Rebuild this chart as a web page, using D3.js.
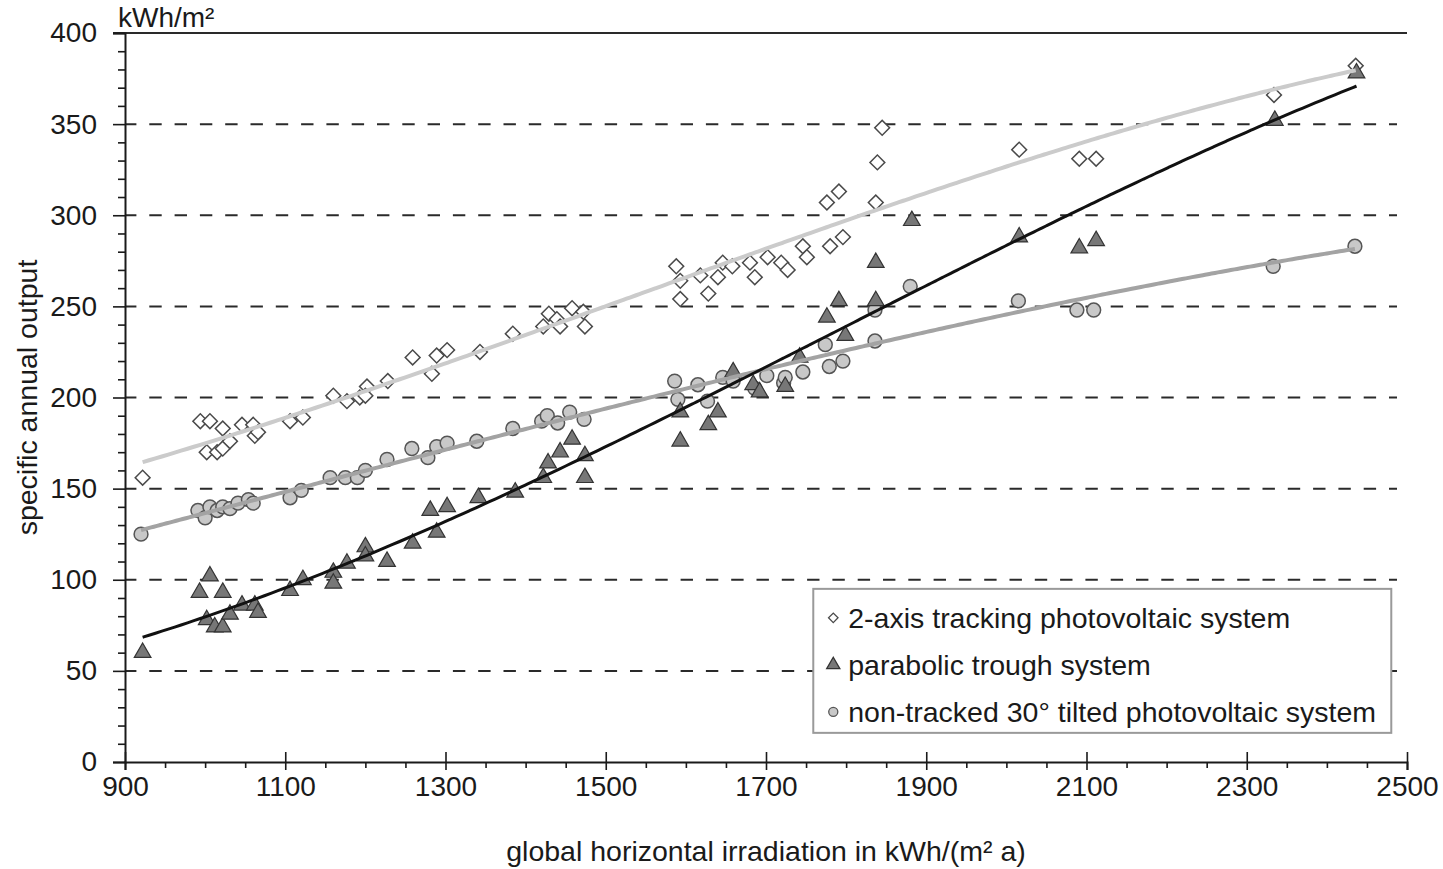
<!DOCTYPE html>
<html>
<head>
<meta charset="utf-8">
<script src="https://cdn.jsdelivr.net/npm/d3@7"></script>
<style>
  body { margin: 0; background: #fff; }
  svg text { font-family: "Liberation Sans", Arial, sans-serif; fill: #1a1a1a; }
</style>
</head>
<body>
<svg class="chart" width="1443" height="869"></svg>
<script>
// 2-axis tracking photovoltaic system (irradiation, output)
const trackX = [922, 994, 1006, 1002, 1015, 1022, 1031, 1022, 1046, 1060, 1062, 1066, 1106, 1122, 1160, 1177, 1193, 1202, 1200, 1228,
  1259, 1283, 1289, 1302, 1343, 1384, 1422, 1429, 1439, 1443, 1458, 1472, 1474, 1588, 1593, 1593, 1618, 1628, 1640, 1646,
  1658, 1680, 1686, 1702, 1719, 1727, 1746, 1751, 1776, 1780, 1791, 1796, 1837, 1839, 1845, 2016, 2091, 2112, 2334, 2436];
const trackY = [156, 187, 187, 170, 170, 172, 176, 183, 185, 185, 179, 181, 187, 189, 201, 198, 200, 206, 201, 209,
  222, 213, 223, 226, 225, 235, 239, 246, 243, 239, 249, 247, 239, 272, 254, 264, 267, 257, 266, 274,
  272, 274, 266, 277, 274, 270, 283, 277, 307, 283, 313, 288, 307, 329, 348, 336, 331, 331, 366, 382];

// parabolic trough system
const troughX = [922, 993, 1006, 1022, 1002, 1012, 1022, 1031, 1046, 1062, 1066, 1106, 1122, 1160, 1160, 1177, 1200, 1200, 1227, 1259,
  1281, 1289, 1302, 1341, 1387, 1422, 1428, 1443, 1458, 1474, 1474, 1593, 1593, 1628, 1640, 1659, 1684, 1692, 1724, 1742,
  1776, 1791, 1799, 1837, 1837, 1882, 2016, 2091, 2112, 2335, 2437];
const troughY = [60, 93, 102, 93, 78, 74, 74, 81, 86, 86, 82, 94, 100, 104, 98, 109, 118, 113, 110, 120,
  138, 126, 140, 145, 148, 156, 164, 170, 177, 168, 156, 176, 192, 185, 192, 214, 207, 203, 206, 222,
  244, 253, 234, 274, 253, 297, 288, 282, 286, 352, 378];

// non-tracked 30° tilted photovoltaic system
const fixedX = [920, 991, 1000, 1006, 1015, 1022, 1031, 1041, 1054, 1060, 1106, 1120, 1156, 1175, 1190, 1200, 1227, 1258, 1278, 1289,
  1302, 1339, 1384, 1420, 1427, 1440, 1455, 1473, 1586, 1590, 1615, 1627, 1646, 1659, 1686, 1701, 1722, 1724, 1746, 1774,
  1779, 1796, 1836, 1836, 1880, 2015, 2088, 2109, 2333, 2435];
const fixedY = [125, 138, 134, 140, 138, 140, 139, 142, 144, 142, 145, 149, 156, 156, 156, 160, 166, 172, 167, 173,
  175, 176, 183, 187, 190, 186, 192, 188, 209, 199, 207, 198, 211, 209, 205, 212, 208, 211, 214, 229,
  217, 220, 231, 248, 261, 253, 248, 248, 272, 283];

const xMajor = [900, 1100, 1300, 1500, 1700, 1900, 2100, 2300, 2500];
const yMajor = [0, 50, 100, 150, 200, 250, 300, 350, 400];
const seriesNames = ["2-axis tracking photovoltaic system", "parabolic trough system", "non-tracked 30° tilted photovoltaic system"];

const margin = {left: 125, right: 36, top: 33, bottom: 107};
const width = 1443 - margin.left - margin.right;
const height = 869 - margin.top - margin.bottom;

const x = d3.scaleLinear().domain([900, 2500]).range([0, width]);
const y = d3.scaleLinear().domain([0, 400]).range([height, 0]);

const svg = d3.select('svg.chart');
const g = svg.append('g').attr('transform', `translate(${margin.left}, ${margin.top})`);

// least squares polynomial, used for the trend curves
function polyFit(xs, ys, order) {
  const n = order + 1;
  const ts = xs.map(v => (v - 1600) / 1000);
  const A = d3.range(n).map(() => new Array(n + 1).fill(0));
  ts.forEach((t, k) => {
    for (let i = 0; i < n; i++) {
      for (let j = 0; j < n; j++) A[i][j] += Math.pow(t, i + j);
      A[i][n] += Math.pow(t, i) * ys[k];
    }
  });
  for (let i = 0; i < n; i++) {
    let p = i;
    for (let r = i + 1; r < n; r++) if (Math.abs(A[r][i]) > Math.abs(A[p][i])) p = r;
    [A[i], A[p]] = [A[p], A[i]];
    for (let r = 0; r < n; r++) {
      if (r === i) continue;
      const f = A[r][i] / A[i][i];
      for (let c = i; c <= n; c++) A[r][c] -= f * A[i][c];
    }
  }
  const coef = A.map((row, i) => row[n] / row[i]);
  return v => {
    const t = (v - 1600) / 1000;
    return coef.reduce((s, c, i) => s + c * Math.pow(t, i), 0);
  };
}

// dashed gridlines
g.selectAll('line.grid')
  .data(yMajor.filter(d => d > 0 && d < 400))
  .enter()
  .append('line')
  .attr('class', 'grid')
  .attr('x1', 0)
  .attr('x2', width - 10)
  .attr('y1', d => y(d))
  .attr('y2', d => y(d))
  .style('stroke', '#2a2a2a')
  .style('stroke-width', 2)
  .style('stroke-dasharray', '12.4,12.9')
  .style('stroke-dashoffset', 1);

// top border line
g.append('line')
  .attr('x1', -12)
  .attr('x2', width)
  .attr('y1', y(400))
  .attr('y2', y(400))
  .style('stroke', '#2a2a2a')
  .style('stroke-width', 2);

// axes
const xMinor = d3.range(950, 2500, 50).filter(d => !xMajor.includes(d));
const yMinor = d3.range(10, 400, 10).filter(d => !yMajor.includes(d));

const xAxisG = g.append('g')
  .attr('transform', `translate(0, ${height})`)
  .call(d3.axisBottom(x).tickValues(xMajor).tickSize(8).tickPadding(6).tickFormat(d3.format('d')));
xAxisG.selectAll('.tick line').attr('y1', -10);
g.append('g')
  .attr('transform', `translate(0, ${height})`)
  .call(d3.axisBottom(x).tickValues(xMinor).tickSize(6).tickFormat(''))
  .select('.domain').remove();

const yAxisG = g.append('g')
  .call(d3.axisLeft(y).tickValues(yMajor).tickSize(12).tickPadding(16));
g.append('g')
  .call(d3.axisLeft(y).tickValues(yMinor).tickSize(7).tickFormat(''))
  .select('.domain').remove();

g.selectAll('.domain').style('stroke', '#1a1a1a').style('stroke-width', 2);
g.selectAll('.tick line').style('stroke', '#1a1a1a').style('stroke-width', 1.6);
g.selectAll('.tick text')
  .style('font-family', '"Liberation Sans", Arial, sans-serif')
  .style('font-size', '28px')
  .style('fill', '#1a1a1a');

// markers
const diamond = d3.symbol().type(d3.symbolSquare).size(110);
const triangle = d3.symbol().type(d3.symbolTriangle).size(120);
const circle = d3.symbol().type(d3.symbolCircle).size(150);

g.selectAll('path.track')
  .data(trackX.map((d, i) => [d, trackY[i]]))
  .enter()
  .append('path')
  .attr('class', 'track')
  .attr('d', diamond)
  .attr('transform', d => `translate(${x(d[0])}, ${y(d[1])}) rotate(45)`)
  .style('fill', '#fff')
  .style('stroke', '#4a4a4a')
  .style('stroke-width', 1.5);

g.selectAll('path.fixed')
  .data(fixedX.map((d, i) => [d, fixedY[i]]))
  .enter()
  .append('path')
  .attr('class', 'fixed')
  .attr('d', circle)
  .attr('transform', d => `translate(${x(d[0])}, ${y(d[1])})`)
  .style('fill', '#c8c8c8')
  .style('stroke', '#555')
  .style('stroke-width', 1.5);

g.selectAll('path.trough')
  .data(troughX.map((d, i) => [d, troughY[i]]))
  .enter()
  .append('path')
  .attr('class', 'trough')
  .attr('d', triangle)
  .attr('transform', d => `translate(${x(d[0])}, ${y(d[1])})`)
  .style('fill', '#777')
  .style('stroke', '#333')
  .style('stroke-width', 1.2);

// trend curves
const trends = [
  {xs: trackX, ys: trackY, color: '#cbcbcb', w: 4},
  {xs: fixedX, ys: fixedY, color: '#a3a3a3', w: 4},
  {xs: troughX, ys: troughY, color: '#111', w: 3}
];
const line = d3.line().x(d => x(d[0])).y(d => y(d[1])).curve(d3.curveBasis);
trends.forEach(t => {
  const f = polyFit(t.xs, t.ys, 3);
  const ext = d3.extent(t.xs);
  const pts = d3.range(ext[0], ext[1], 8).concat([ext[1]]).map(v => [v, f(v)]);
  g.append('path')
    .attr('d', line(pts))
    .style('fill', 'none')
    .style('stroke', t.color)
    .style('stroke-width', t.w);
});

// axis titles
g.append('text')
  .attr('x', -7)
  .attr('y', -6)
  .text('kWh/m²')
  .style('font-size', '28px');

g.append('text')
  .attr('transform', `translate(${-88}, ${height / 2}) rotate(-90)`)
  .attr('text-anchor', 'middle')
  .text('specific annual output')
  .style('font-size', '28.5px');

g.append('text')
  .attr('x', width / 2)
  .attr('y', height + 99)
  .attr('text-anchor', 'middle')
  .text('global horizontal irradiation in kWh/(m² a)')
  .style('font-size', '28.5px');

// legend
const legend = g.append('g').attr('transform', `translate(${x(1759)}, ${y(95)})`);
legend.append('rect')
  .attr('width', 578)
  .attr('height', 144)
  .style('fill', '#fff')
  .style('stroke', '#9a9a9a')
  .style('stroke-width', 2);

const legendSyms = [
  {sym: d3.symbol().type(d3.symbolSquare).size(45), rot: 45, fill: '#fff', stroke: '#4a4a4a'},
  {sym: d3.symbol().type(d3.symbolTriangle).size(75), rot: 0, fill: '#777', stroke: '#333'},
  {sym: d3.symbol().type(d3.symbolCircle).size(65), rot: 0, fill: '#c8c8c8', stroke: '#555'}
];
const rows = legend.selectAll('g.row')
  .data(seriesNames)
  .enter()
  .append('g')
  .attr('class', 'row')
  .attr('transform', (d, i) => `translate(0, ${29 + i * 47})`);
rows.append('path')
  .attr('d', (d, i) => legendSyms[i].sym())
  .attr('transform', (d, i) => `translate(20, 0) rotate(${legendSyms[i].rot})`)
  .style('fill', (d, i) => legendSyms[i].fill)
  .style('stroke', (d, i) => legendSyms[i].stroke)
  .style('stroke-width', 1.3);
rows.append('text')
  .attr('x', 35)
  .attr('dy', '0.36em')
  .text(d => d)
  .style('font-size', '28.5px');
</script>
</body>
</html>
